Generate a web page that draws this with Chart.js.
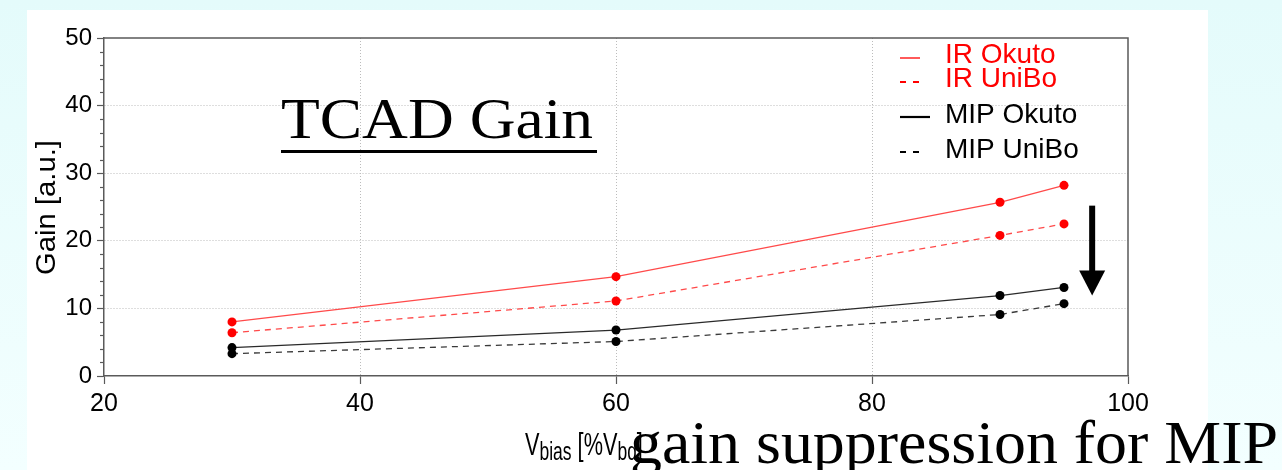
<!DOCTYPE html>
<html>
<head>
<meta charset="utf-8">
<script src="https://cdn.jsdelivr.net/npm/chart.js@4/dist/chart.umd.min.js"></script>
<style>
  html, body { margin: 0; padding: 0; width: 1282px; height: 470px; overflow: hidden;
    background: linear-gradient(#e4fbfb, #f3ffff); }
  #wrap { position: absolute; left: 0; top: 0; width: 1282px; height: 470px; }
</style>
</head>
<body>
<div id="wrap"><canvas id="c" width="1282" height="470"></canvas></div>
<script>
// Bias voltage in % of breakdown voltage
const biasPercent = [30, 60, 90, 95];
// Simulated gain for each model
const irOkuto   = [8.0, 14.7, 25.7, 28.2];
const irUniBo   = [6.4, 11.1, 20.8, 22.5];
const mipOkuto  = [4.2, 6.8, 11.9, 13.1];
const mipUniBo  = [3.3, 5.1, 9.1, 10.7];
const seriesNames = ['IR Okuto', 'IR UniBo', 'MIP Okuto', 'MIP UniBo'];
const xTickValues = [20, 40, 60, 80, 100];
const yTickValues = [0, 10, 20, 30, 40, 50];

const SANS = '"Liberation Sans", Arial, sans-serif';
const SERIF = '"Liberation Serif", "Times New Roman", serif';
const AXIS = '#5a5a5a';
const GRID = '#bcbcbc';

const toPoints = ys => biasPercent.map((x, i) => ({ x, y: ys[i] }));

function series(label, ys, line, dot, dashed) {
  return {
    label,
    data: toPoints(ys),
    borderColor: line,
    backgroundColor: dot,
    pointBackgroundColor: dot,
    pointBorderWidth: 0,
    pointRadius: 4.5,
    borderWidth: 1.3,
    borderDash: dashed ? [6, 5] : [],
    tension: 0,
    fill: false
  };
}

// White slide panel behind the plot
const panel = {
  id: 'panel',
  beforeDraw(chart) {
    const ctx = chart.ctx;
    ctx.save();
    ctx.fillStyle = '#ffffff';
    ctx.fillRect(27, 10, 1181, 460);
    ctx.restore();
  }
};

// Frame, minor ticks, legend and annotations
const decorations = {
  id: 'decorations',
  afterDatasetsDraw(chart) {
    const { ctx, chartArea: a, scales: { x, y } } = chart;
    ctx.save();

    // top and right frame lines
    ctx.strokeStyle = AXIS;
    ctx.lineWidth = 1.5;
    ctx.beginPath();
    ctx.moveTo(a.left, a.top); ctx.lineTo(a.right, a.top); ctx.lineTo(a.right, a.bottom);
    ctx.stroke();

    // minor ticks on the gain axis
    ctx.lineWidth = 1.2;
    for (let v = 0; v <= 50; v += 2) {
      if (v % 10 === 0) continue;
      const py = Math.round(y.getPixelForValue(v)) + 0.5;
      ctx.beginPath(); ctx.moveTo(a.left - 4, py); ctx.lineTo(a.left, py); ctx.stroke();
    }

    // legend
    const rows = [63, 87, 123, 158];
    chart.data.datasets.forEach((ds, i) => {
      const base = rows[i];
      const isIR = i < 2;
      const col = isIR ? '#ff0000' : '#000000';
      ctx.strokeStyle = col;
      ctx.lineWidth = isIR ? 1.3 : 2.2;
      const my = base - (isIR ? 5 : 6);
      ctx.beginPath();
      if (ds.borderDash.length) {
        ctx.lineWidth = 2;
        ctx.moveTo(900, my); ctx.lineTo(906, my);
        ctx.moveTo(913, my); ctx.lineTo(919, my);
      } else {
        ctx.moveTo(900, my); ctx.lineTo(isIR ? 920 : 930, my);
      }
      ctx.stroke();
      ctx.fillStyle = col;
      ctx.font = '28px ' + SANS;
      ctx.textBaseline = 'alphabetic';
      ctx.textAlign = 'left';
      ctx.fillText(ds.label, 945, base);
    });

    // arrow pointing from the IR curves down to the MIP curves
    const ax = x.getPixelForValue(97.2);
    const aTop = y.getPixelForValue(25.2);
    const aTip = y.getPixelForValue(11.9);
    ctx.fillStyle = '#000';
    ctx.fillRect(ax - 3, aTop, 6, aTip - aTop - 20);
    ctx.beginPath();
    ctx.moveTo(ax - 13, aTip - 25);
    ctx.lineTo(ax + 13, aTip - 25);
    ctx.lineTo(ax, aTip);
    ctx.closePath();
    ctx.fill();

    // title
    ctx.fillStyle = '#000';
    ctx.font = '57px ' + SERIF;
    const title = 'TCAD Gain';
    const tw = ctx.measureText(title).width;
    ctx.save();
    ctx.translate(281, 138);
    ctx.scale(312 / tw, 1);
    ctx.fillText(title, 0, 0);
    ctx.restore();
    ctx.fillRect(281, 150, 316, 3);

    // y axis title
    ctx.font = '28px ' + SANS;
    const yt = 'Gain [a.u.]';
    const yw = ctx.measureText(yt).width;
    ctx.save();
    ctx.translate(55, 275);
    ctx.rotate(-Math.PI / 2);
    ctx.scale(135 / yw, 1);
    ctx.fillText(yt, 0, 0);
    ctx.restore();

    // x axis title with subscripts
    ctx.save();
    ctx.translate(525, 455);
    ctx.scale(0.7, 1);
    let cx = 0;
    const parts = [['V', 31, 0], ['bias', 25, 5], [' [%V', 31, 0], ['bd', 25, 5], [']', 31, 0]];
    parts.forEach(([t, s, dy]) => {
      ctx.font = s + 'px ' + SANS;
      ctx.fillText(t, cx, dy);
      cx += ctx.measureText(t).width;
    });
    ctx.restore();

    // remark on the slide
    ctx.font = '61px ' + SERIF;
    const note = 'gain suppression for MIP';
    const nw = ctx.measureText(note).width;
    ctx.save();
    ctx.translate(630, 463);
    ctx.scale(648 / nw, 1);
    ctx.fillText(note, 0, 0);
    ctx.restore();

    ctx.restore();
  }
};

new Chart(document.getElementById('c'), {
  type: 'line',
  data: {
    datasets: [
      series(seriesNames[0], irOkuto, '#ff4a4a', '#ff0000', false),
      series(seriesNames[1], irUniBo, '#ff4a4a', '#ff0000', true),
      series(seriesNames[2], mipOkuto, '#2a2a2a', '#000000', false),
      series(seriesNames[3], mipUniBo, '#3a3a3a', '#000000', true)
    ]
  },
  options: {
    responsive: false,
    devicePixelRatio: 1,
    animation: false,
    layout: { padding: { left: 0, top: 38, right: 154, bottom: 0 } },
    plugins: { legend: { display: false }, tooltip: { enabled: false } },
    scales: {
      x: {
        type: 'linear',
        min: xTickValues[0],
        max: xTickValues[xTickValues.length - 1],
        afterBuildTicks: s => { s.ticks = xTickValues.map(v => ({ value: v })); },
        afterFit: s => { s.height = 94; },
        ticks: { color: '#000', font: { family: SANS, size: 25 }, padding: 5, maxRotation: 0 },
        grid: {
          color: c => (c.tick && (c.tick.value === 20 || c.tick.value === 100)) ? 'rgba(0,0,0,0)' : GRID,
          lineWidth: 1,
          tickColor: AXIS,
          tickLength: 8,
          tickWidth: 1.2
        },
        border: { color: AXIS, width: 1.5, dash: [1, 2] }
      },
      y: {
        type: 'linear',
        min: yTickValues[0],
        max: yTickValues[yTickValues.length - 1],
        afterBuildTicks: s => { s.ticks = yTickValues.map(v => ({ value: v })); },
        afterFit: s => { s.width = 104; },
        ticks: { color: '#000', font: { family: SANS, size: 24 }, padding: 5 },
        grid: {
          color: c => (c.tick && (c.tick.value === 0 || c.tick.value === 50)) ? 'rgba(0,0,0,0)' : GRID,
          lineWidth: 1,
          tickColor: AXIS,
          tickLength: 7,
          tickWidth: 1.2
        },
        border: { color: AXIS, width: 1.5, dash: [1, 2] }
      }
    }
  },
  plugins: [panel, decorations]
});
</script>
</body>
</html>
